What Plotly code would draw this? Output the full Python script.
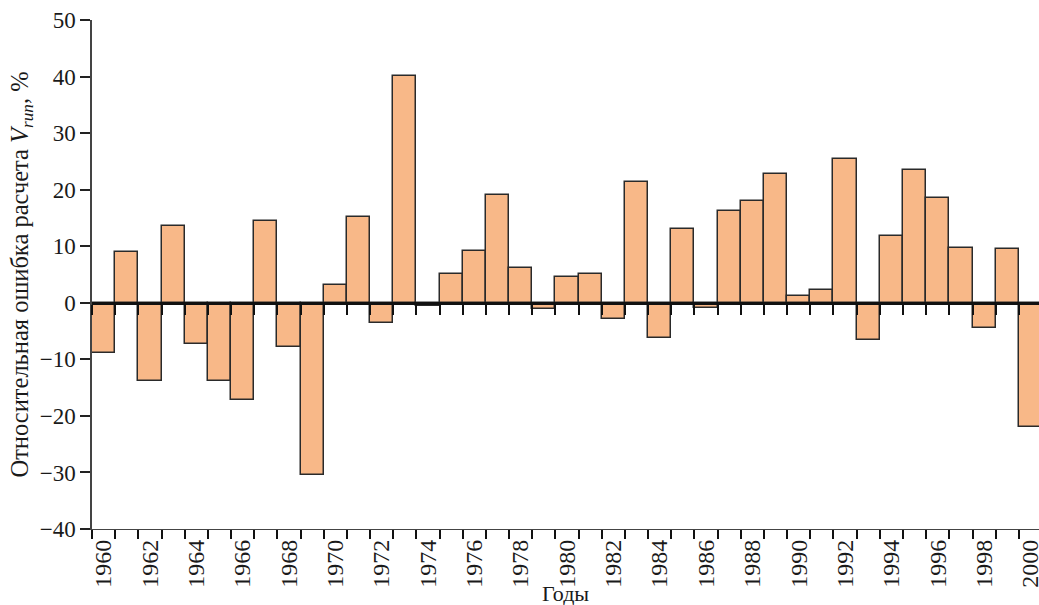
import plotly.graph_objects as go

years = list(range(1960, 2001))
errors = [-8.9, 9.0, -13.8, 13.6, -7.3, -13.8, -17.2, 14.5, -7.8, -30.4,
          3.2, 15.2, -3.5, 40.1, -0.6, 5.1, 9.2, 19.1, 6.1, -1.1,
          4.5, 5.1, -2.9, 21.4, -6.3, 13.0, -0.9, 16.3, 18.0, 22.7,
          1.2, 2.2, 25.5, -6.6, 11.8, 23.5, 18.5, 9.7, -4.5, 9.5,
          -21.9]
label_years = list(range(1960, 2001, 2))
y_ticks = [-40, -30, -20, -10, 0, 10, 20, 30, 40, 50]
y_ticktext = ["\u221240", "\u221230", "\u221220", "\u221210", "0", "10", "20", "30", "40", "50"]
boundaries = [y - 0.5 for y in years] + [years[-1] + 0.5]

FONT = "Liberation Serif"
XR = [1959.5, 2000.37]
YR = [-40, 50]
W, H = 1039, 605
ML, MT, MB = 92, 20, 76
PLOT_H = H - MT - MB

fig = go.Figure()
fig.add_trace(go.Bar(
    x=years, y=errors, width=1,
    marker=dict(color="#F8B888", line=dict(color="#2a2a2a", width=1.5)),
    showlegend=False,
))
fig.add_trace(go.Scatter(x=[], y=[], xaxis="x2", showlegend=False))

fig.update_layout(
    width=W, height=H,
    margin=dict(l=ML, r=0, t=MT, b=MB),
    paper_bgcolor="white", plot_bgcolor="white",
    font=dict(family=FONT, size=21, color="#1a1a1a"),
    bargap=0,
    xaxis=dict(
        range=XR, showgrid=False, zeroline=False, automargin=False,
        showline=True, linecolor="#444", linewidth=1.2,
        tickmode="array", tickvals=label_years, ticktext=[str(v) for v in label_years],
        ticks="", tickangle=-90, tickfont=dict(size=24), ticklabeloverflow="allow",
        minor=dict(tickmode="array", tickvals=boundaries, ticks="outside",
                   ticklen=9, tickwidth=1.8, tickcolor="#111"),
    ),
    xaxis2=dict(
        overlaying="x", anchor="free", position=(0 - YR[0]) / (YR[1] - YR[0]),
        range=XR, showgrid=False, zeroline=False, automargin=False,
        showline=True, linecolor="#111", linewidth=2.5,
        tickmode="array", tickvals=boundaries, showticklabels=False,
        ticks="outside", ticklen=10, tickwidth=2.2, tickcolor="#111",
    ),
    yaxis=dict(
        range=YR, showgrid=False, zeroline=False, automargin=False,
        showline=True, linecolor="#444", linewidth=1.5,
        tickmode="array", tickvals=y_ticks, ticktext=y_ticktext,
        ticks="outside", ticklen=10, tickwidth=1.5, tickcolor="#222",
        tickfont=dict(size=23),
        title=dict(text="Относительная ошибка расчета <i>V</i><sub><i>run</i></sub>, %",
                   font=dict(size=24.5), standoff=4),
    ),
    annotations=[dict(
        text="Годы", xref="paper", yref="paper", x=0.5, y=-(593 - (H - MB)) / PLOT_H,
        xanchor="center", yanchor="middle", showarrow=False,
        font=dict(size=22, family=FONT, color="#1a1a1a"),
    )],
)

fig.write_html("out.html", config={"displayModeBar": False},
               post_script="document.body.style.margin='0';")
